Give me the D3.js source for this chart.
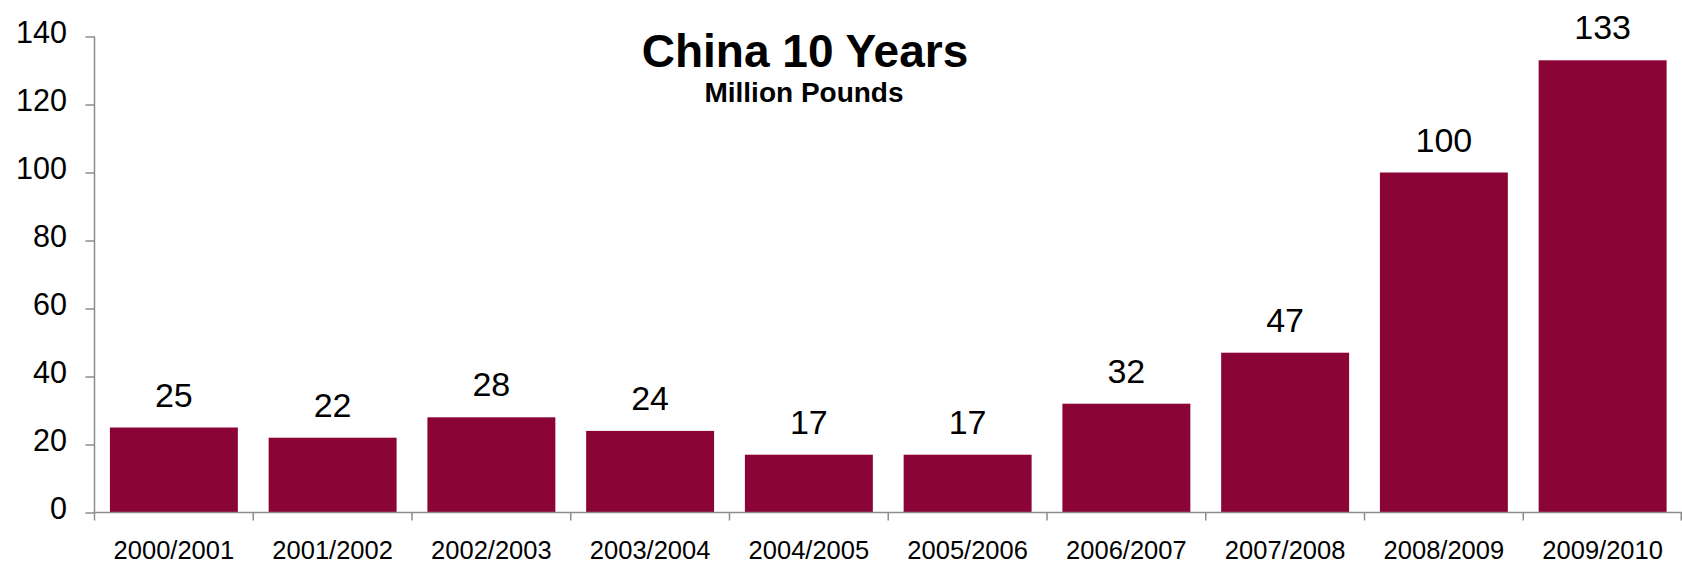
<!DOCTYPE html>
<html>
<head>
<meta charset="utf-8">
<script src="https://cdn.jsdelivr.net/npm/d3@7"></script>
<style>
  html, body { margin: 0; padding: 0; background: #fff; }
  svg { display: block; font-family: "Liberation Sans", Arial, sans-serif; }
</style>
</head>
<body>
<svg id="chart" width="1682" height="563"></svg>
<script>
// Crop years and volumes (million pounds)
const categories = ["2000/2001", "2001/2002", "2002/2003", "2003/2004", "2004/2005",
                    "2005/2006", "2006/2007", "2007/2008", "2008/2009", "2009/2010"];
const values = [25, 22, 28, 24, 17, 17, 32, 47, 100, 133];
const yTicks = [0, 20, 40, 60, 80, 100, 120, 140];
const titleText = "China 10 Years";
const subtitleText = "Million Pounds";

const svg = d3.select("#chart");
const axisColor = "#8c8c8c";
const barColor = "#8a0536";

const x = d3.scaleBand()
  .domain(categories)
  .range([94.5, 1682])
  .paddingInner(0.194)
  .paddingOuter(0.097);

const y = d3.scaleLinear()
  .domain([0, 140])
  .range([512.5, 36.5]);

// Bars
svg.append("g")
  .selectAll("rect")
  .data(values)
  .join("rect")
  .attr("x", (d, i) => x(categories[i]))
  .attr("y", d => y(d))
  .attr("width", x.bandwidth())
  .attr("height", d => y(0) - y(d))
  .attr("fill", barColor);

// Value labels above bars
svg.append("g")
  .selectAll("text")
  .data(values)
  .join("text")
  .attr("x", (d, i) => x(categories[i]) + x.bandwidth() / 2)
  .attr("y", d => y(d) - 21)
  .attr("text-anchor", "middle")
  .attr("font-size", 34)
  .attr("fill", "#000")
  .text(d => d);

// Y axis
const yAxis = d3.axisLeft(y)
  .tickValues(yTicks)
  .tickSize(9)
  .tickPadding(18.5)
  .tickFormat(d3.format("d"));

const gy = svg.append("g")
  .attr("transform", "translate(94.5,0)")
  .call(yAxis);
gy.select(".domain").attr("stroke", axisColor).attr("stroke-width", 1.5)
  .attr("d", `M0,${y(140)}V${y(0)}`);
gy.selectAll(".tick line").attr("stroke", axisColor).attr("stroke-width", 1.5);
gy.selectAll(".tick text")
  .attr("font-size", 30.5)
  .attr("font-family", "Liberation Sans, Arial, sans-serif")
  .attr("fill", "#000")
  .attr("dy", "0.2em");

// X axis with boundary ticks between categories
const gx = svg.append("g")
  .attr("transform", `translate(0,${y(0)})`);
gx.append("path")
  .attr("d", `M${x.range()[0]},0H${x.range()[1]}`)
  .attr("stroke", axisColor)
  .attr("stroke-width", 1.5)
  .attr("fill", "none");
const bounds = categories.map(c => x(c) - x.step() * x.paddingInner() / 2)
  .concat([x.range()[1] - 0.75]);
gx.selectAll("line.sep")
  .data(bounds)
  .join("line")
  .attr("class", "sep")
  .attr("x1", d => d).attr("x2", d => d)
  .attr("y1", 0).attr("y2", 8)
  .attr("stroke", axisColor)
  .attr("stroke-width", 1.5);
gx.selectAll("text")
  .data(categories)
  .join("text")
  .attr("x", d => x(d) + x.bandwidth() / 2)
  .attr("y", 46)
  .attr("text-anchor", "middle")
  .attr("font-size", 25.5)
  .attr("fill", "#000")
  .text(d => d);

// Title block
svg.append("text")
  .attr("x", 805)
  .attr("y", 67)
  .attr("text-anchor", "middle")
  .attr("font-size", 46)
  .attr("font-weight", "bold")
  .attr("fill", "#000")
  .text(titleText);

svg.append("text")
  .attr("x", 804)
  .attr("y", 102)
  .attr("text-anchor", "middle")
  .attr("font-size", 28)
  .attr("font-weight", "bold")
  .attr("fill", "#000")
  .text(subtitleText);
</script>
</body>
</html>
